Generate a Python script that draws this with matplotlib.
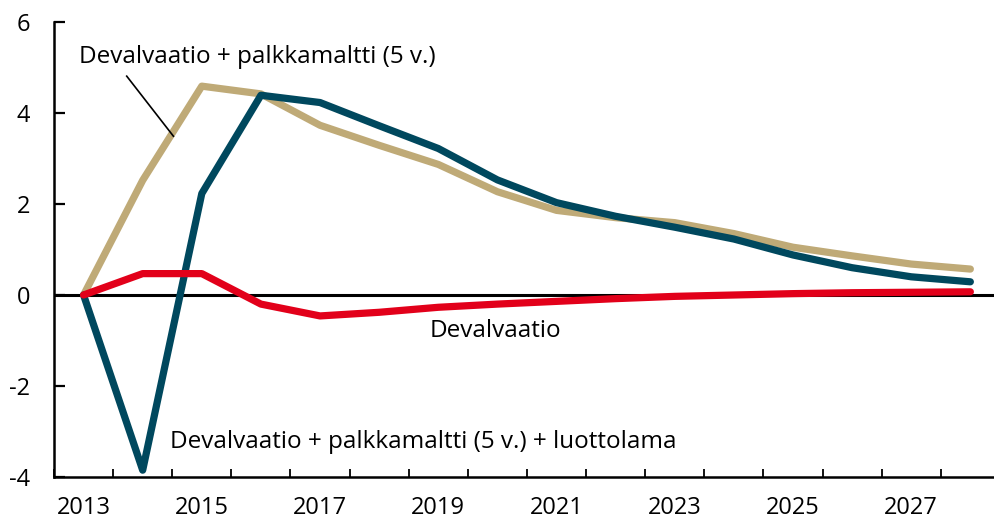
import matplotlib
matplotlib.use('Agg')
import matplotlib.pyplot as plt
from matplotlib.ticker import MultipleLocator, FixedLocator

plt.rcParams['font.family'] = ['Open Sans', 'DejaVu Sans']
plt.rcParams['axes.unicode_minus'] = False

years = list(range(2013, 2029))

# Devalvaatio + palkkamaltti (5 v.)
deval_wage = [0.0, 2.52, 4.59, 4.42, 3.73, 3.29, 2.87, 2.27, 1.86, 1.70, 1.59,
              1.35, 1.05, 0.86, 0.68, 0.57]
# Devalvaatio + palkkamaltti (5 v.) + luottolama
deval_wage_credit = [0.0, -3.85, 2.23, 4.39, 4.23, 3.72, 3.22, 2.53, 2.03, 1.73, 1.49,
                     1.23, 0.88, 0.60, 0.40, 0.29]
# Devalvaatio
deval = [0.0, 0.47, 0.47, -0.20, -0.46, -0.38, -0.27, -0.20, -0.14, -0.08, -0.03,
         0.0, 0.03, 0.05, 0.06, 0.07]

tan = '#BFAA77'
teal = '#00485E'
red = '#E2001A'

fig = plt.figure(figsize=(9.94, 5.21), dpi=100)
ax = fig.add_axes([54 / 994, 44 / 521, 940 / 994, 455 / 521])

ax.axhline(0, color='black', lw=2.2, zorder=1)
kw = dict(lw=5.2, solid_capstyle='round', solid_joinstyle='round')
ax.plot(years, deval_wage, color=tan, zorder=2, **kw)
ax.plot(years, deval_wage_credit, color=teal, zorder=3, **kw)
ax.plot(years, deval, color=red, zorder=4, **kw)

ax.set_xlim(2012.5, 2028.4)
ax.set_ylim(-4, 6)

ax.xaxis.set_major_locator(FixedLocator(range(2013, 2029, 2)))
ax.xaxis.set_minor_locator(FixedLocator([y + 0.5 for y in range(2012, 2028)]))
ax.tick_params(axis='x', which='major', length=0, pad=14, labelsize=17)
ax.tick_params(axis='x', which='minor', direction='in', length=6, width=1.3)
ax.yaxis.set_major_locator(MultipleLocator(2))
ax.tick_params(axis='y', direction='in', length=8, width=1.6, pad=17, labelsize=17)

for s in ['top', 'right']:
    ax.spines[s].set_visible(False)
for s in ['left', 'bottom']:
    ax.spines[s].set_linewidth(1.8)

ax.text(2012.93, 5.23, 'Devalvaatio + palkkamaltti (5 v.)', fontsize=17.5,
        va='center', ha='left')
ax.plot([2013.73, 2014.52], [4.81, 3.49], color='black', lw=1.2, zorder=5)
ax.text(2018.85, -0.79, 'Devalvaatio', fontsize=17.5, va='center', ha='left')
ax.text(2014.46, -3.22, 'Devalvaatio + palkkamaltti (5 v.) + luottolama',
        fontsize=17.5, va='center', ha='left')

fig.savefig('out.png', dpi=100)
